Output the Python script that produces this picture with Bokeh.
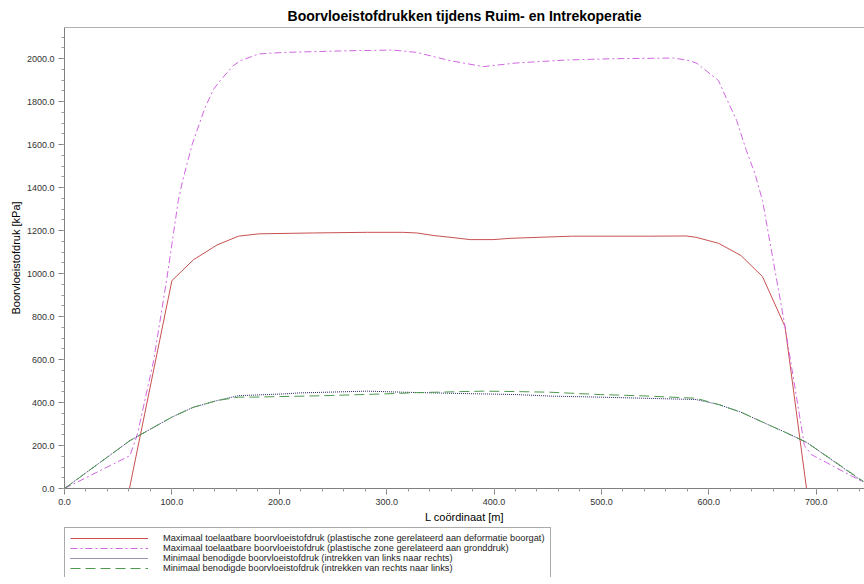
from bokeh.plotting import figure
from bokeh.layouts import column
from bokeh.models import (Range1d, SingleIntervalTicker, PrintfTickFormatter, Legend,
                          LegendItem, Span)
from bokeh.embed import file_html
from bokeh.resources import INLINE

# ---- data ----
red_x = [60.5, 100, 120, 142, 162, 181, 232, 282, 315, 328, 344, 359, 378, 399, 415,
         443, 473, 545, 579, 588, 609, 630, 650, 671, 691]
red_y = [0, 967, 1064, 1133, 1174, 1185, 1189, 1192, 1192, 1189, 1177, 1169, 1158, 1158,
         1164, 1169, 1174, 1174, 1175, 1169, 1141, 1084, 986, 753, 0]

mag_x = [0, 61, 68, 83, 95, 106, 110, 119, 131, 139, 145, 157, 164, 181, 204, 266, 306,
         328, 359, 390, 421, 468, 514, 567, 582, 589, 609, 616, 626, 635, 643, 650, 671,
         689, 695.5, 744]
mag_y = [0, 153, 255, 595, 967, 1340, 1432, 1603, 1774, 1859, 1898, 1967, 1991, 2022,
         2029, 2037, 2040, 2029, 1991, 1963, 1980, 1994, 2000, 2003, 1991, 1978, 1898,
         1820, 1712, 1572, 1465, 1340, 753, 200, 158, 29]

navy_x = [0, 61, 100, 120, 142, 162, 204, 220, 282, 316, 359, 421, 452, 499, 539, 588,
          609, 630, 650, 671, 691, 744]
navy_y = [0, 223, 332, 378, 409, 432, 440, 445, 453, 448, 443, 437, 430, 425, 420, 414,
          391, 355, 309, 262, 215, 30]

green_x = [0, 61, 100, 120, 142, 162, 173, 235, 297, 328, 390, 421, 452, 499, 539, 588,
           609, 630, 650, 671, 691, 744]
green_y = [0, 223, 332, 378, 409, 425, 425, 431, 440, 446, 453, 451, 448, 437, 431, 420,
           391, 355, 309, 262, 215, 33]

labels = [
    "Maximaal toelaatbare boorvloeistofdruk (plastische zone gerelateerd aan deformatie boorgat)",
    "Maximaal toelaatbare boorvloeistofdruk (plastische zone gerelateerd aan gronddruk)",
    "Minimaal benodigde boorvloeistofdruk (intrekken van links naar rechts)",
    "Minimaal benodigde boorvloeistofdruk (intrekken van rechts naar links)",
]

FONT = "Liberation Sans"
X_MAX = 745
Y_MAX = 2145

styles = [
    dict(line_color="#c85050", line_width=1, line_dash="solid"),
    dict(line_color="#d066e0", line_width=1, line_dash="7 3 2 3"),
    dict(line_color="#2a2a6a", line_width=1, line_dash="1 1"),
    dict(line_color="#4f9a4f", line_width=1, line_dash="10 5"),
]
series = [(red_x, red_y), (mag_x, mag_y), (navy_x, navy_y), (green_x, green_y)]

# ---------------- main chart ----------------
p = figure(width=864, height=527, output_backend="svg", toolbar_location=None,
           x_range=Range1d(0, X_MAX), y_range=Range1d(0, Y_MAX),
           min_border_left=64, min_border_right=0, min_border_top=27,
           min_border_bottom=39)
p.outline_line_color = None
p.grid.visible = False
p.background_fill_color = "white"
p.border_fill_color = "white"

p.title.text = "Boorvloeistofdrukken tijdens Ruim- en Intrekoperatie"
p.title.align = "center"
p.title.text_font = FONT
p.title.text_font_size = "14px"
p.title.text_font_style = "bold"
p.title.text_color = "black"
p.title.standoff = 7

top_line = Span(location=Y_MAX, dimension="width", line_color="#606060", line_width=1)
p.add_layout(top_line)

for (xs, ys), st in zip(series, styles):
    p.line(xs, ys, **st)

p.xaxis.ticker = SingleIntervalTicker(interval=100, num_minor_ticks=5)
p.yaxis.ticker = SingleIntervalTicker(interval=200, num_minor_ticks=4)
for ax in (p.xaxis, p.yaxis):
    ax.formatter = PrintfTickFormatter(format="%.1f")
    ax.axis_line_color = "#7f7f7f"
    ax.major_tick_line_color = "#7f7f7f"
    ax.minor_tick_line_color = "#9a9a9a"
    ax.major_tick_out = 6
    ax.major_tick_in = 0
    ax.minor_tick_out = 3
    ax.minor_tick_in = 0
    ax.major_label_text_font = FONT
    ax.major_label_text_font_size = "9px"
    ax.major_label_text_color = "#333333"
    ax.major_label_standoff = 4
    ax.axis_label_text_font = FONT
    ax.axis_label_text_font_size = "11px"
    ax.axis_label_text_font_style = "normal"
    ax.axis_label_text_color = "black"
p.xaxis.axis_label = "L coördinaat [m]"
p.yaxis.axis_label = "Boorvloeistofdruk [kPa]"
p.xaxis.axis_label_standoff = 3
p.yaxis.axis_label_standoff = 2

# ---------------- legend strip ----------------
lg = figure(width=864, height=50, output_backend="svg", toolbar_location=None,
            x_range=Range1d(0, 1), y_range=Range1d(9000, 9001),
            x_axis_type=None, y_axis_type=None,
            min_border_left=64, min_border_right=0, min_border_top=0,
            min_border_bottom=0)
lg.outline_line_color = None
lg.grid.visible = False
lg.background_fill_color = "white"
lg.border_fill_color = "white"

items = []
for lab, (xs, ys), st in zip(labels, series, styles):
    r = lg.line(xs, ys, **st)   # same series; lies outside this strip's ranges
    items.append(LegendItem(label=lab, renderers=[r]))

legend = Legend(items=items, location="top_left")
legend.label_text_font = FONT
legend.label_text_font_size = "9.25px"
legend.label_text_line_height = 0.9
legend.label_text_color = "#222222"
legend.glyph_width = 78
legend.glyph_height = 8
legend.label_height = 8
legend.label_standoff = 15
legend.spacing = 0
legend.padding = 5
legend.margin = 0
legend.border_line_color = "#555555"
legend.border_line_width = 1
legend.background_fill_color = "white"
legend.background_fill_alpha = 1
lg.add_layout(legend, "center")

layout = column(p, lg, spacing=0)
open("out.html", "w").write(file_html(layout, INLINE))
